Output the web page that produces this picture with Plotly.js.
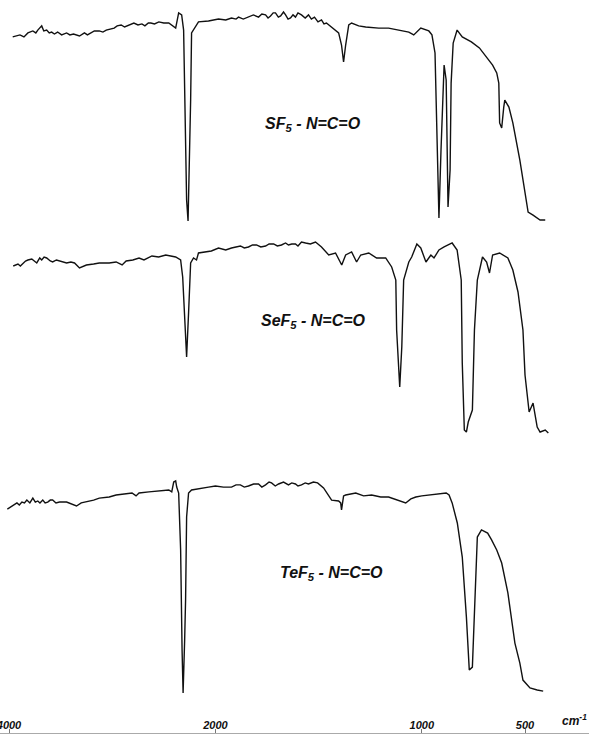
<!DOCTYPE html>
<html>
<head>
<meta charset="utf-8">
<script src="https://cdn.plot.ly/plotly-3.0.1.min.js"></script>
<style>html,body{margin:0;padding:0;background:#fff;}#chart{width:589px;height:735px;}</style>
</head>
<body>
<div id="chart"></div>
<script>
// Wavenumbers (cm^-1) and % transmittance
const sf5Wn = [3964,3894,3855,3817,3769,3740,3721,3683,3663,3635,3610,3587,3560,3529,3490,3442,3410,3375,3317,3290,3269,3240,3200,3173,3125,3090,3058,3020,2981,2952,2913,2880,2837,2790,2750,2712,2683,2650,2625,2590,2548,2500,2452,2404,2385,2356,2327,2308,2289,2279,2265,2250,2240,2231,2212,2192,2164,2067,1985,1950,1922,1900,1888,1865,1840,1816,1791,1775,1757,1745,1733,1720,1709,1695,1684,1670,1660,1648,1636,1624,1612,1600,1583,1565,1549,1535,1520,1503,1486,1474,1462,1450,1437,1418,1403,1389,1379,1369,1354,1340,1306,1272,1209,1161,1112,1078,1063,1039,1005,966,951,936,931,917,907,892,882,877,873,863,858,848,829,804,760,721,681,657,637,627,623,613,603,598,578,559,525,500,485,461,427,402];
const sf5T  = [85.5,86.4,85.5,87.3,88.2,87.3,88.6,90.5,88.2,88.6,87.3,87.7,86.8,87.7,86.4,87.3,86.4,86.8,85.9,86.8,87.3,86.4,87.7,88.2,88.2,87.7,88.6,89.1,89.5,90.5,90.9,90,90.9,91.8,90.9,91.4,90.5,91.8,91.8,91.4,92.3,91.8,91.8,90,89.5,96.4,95.5,88.6,47.7,11.4,1.8,29.5,56.8,87.3,88.6,90,92.3,92.7,93.6,93.2,94.1,93.6,94.5,93.6,94.5,95.5,94.5,95.9,95.5,94.1,95,96.4,96.4,94.5,95,96.8,95.5,93.6,94.1,95.5,94.5,96.4,95.5,94.1,95.5,93.6,94.5,92.3,93.2,91.4,91.8,90.9,90,88.6,87.3,81.8,74.1,81.8,90.9,91.8,90.5,90,89.5,89.5,88.6,87.7,87.7,86.4,89.5,88.2,86.4,78.2,56.8,3.2,34.1,72.7,65.9,34.1,8.2,25,64.5,82.7,88.6,85.5,83.2,80.5,75.9,72.7,69.1,64.5,46.4,44.1,53.6,56.8,53.6,46.4,29.5,15.9,5.9,4.5,2.3,2.3];

const sef5Wn = [3959,3913,3890,3865,3840,3817,3779,3755,3731,3702,3683,3660,3635,3600,3577,3540,3510,3442,3400,3365,3317,3250,3180,3125,3029,2962,2904,2865,2800,2740,2692,2615,2550,2481,2385,2337,2317,2298,2279,2260,2240,2212,2183,2164,2039,1985,1950,1922,1900,1879,1860,1840,1820,1801,1780,1757,1740,1718,1700,1680,1660,1646,1630,1612,1600,1583,1563,1540,1515,1486,1451,1418,1388,1369,1340,1316,1296,1257,1219,1175,1146,1126,1122,1107,1097,1088,1063,1049,1024,1005,980,956,941,917,892,853,829,809,804,794,784,775,755,745,731,706,686,672,657,623,583,559,534,510,500,480,461,441,427,402,387];
const sef5T  = [87,88,87,88.5,89.5,90,90.5,89.5,88.5,91,90,91.5,91,89.5,89,90,89.5,88.5,89,88.5,86,87.5,88,88.5,88.5,89,87.5,89.5,90,91,90,92,91.5,92.5,91.5,90,81.5,60,41.5,63.5,88.5,91,90,93.5,94.5,96,95,96,96.5,97,96,96.5,97.5,97.5,96.5,97,98,98,97,97.5,98.5,97.5,98,98,97,99,98.5,98,99,96.5,92.5,93.5,87.5,92.5,94,89,92.5,93.5,91,91,86.5,80,55,26.5,46.5,80,89,91.5,98,96,89,92.5,91,95,96.5,98.5,95,80,38.5,5,4,9,15,55,80,91.5,89,83.5,92.5,93.5,91,85,74,55,32.5,14,18.5,6.5,4,5,3.5];

const tef5Wn = [4016,3971,3923,3900,3875,3850,3827,3798,3769,3745,3721,3700,3673,3650,3625,3600,3577,3545,3510,3442,3394,3346,3300,3250,3180,3125,3029,2962,2885,2808,2769,2740,2644,2577,2500,2452,2423,2404,2385,2375,2356,2337,2323,2313,2298,2289,2279,2260,2231,2164,2067,2000,1961,1922,1900,1879,1860,1840,1815,1791,1775,1757,1740,1728,1710,1694,1670,1646,1630,1612,1600,1583,1565,1549,1525,1505,1476,1437,1403,1393,1389,1379,1369,1320,1282,1243,1199,1161,1112,1078,1053,1029,1000,966,931,902,882,868,853,828,804,784,770,755,745,731,711,681,662,637,613,583,549,525,510,490,476,441,412];
const tef5T  = [84.5,85.9,87.3,86.4,87.7,87.3,88.6,87.3,89.5,87.7,88.2,87.3,88.6,87.3,87.7,88.6,88.6,87.3,87.7,87.7,86.8,85.9,87.3,87.7,88.6,89.5,90,90.9,91.4,91.8,90.5,91.8,92.3,92.7,93.2,93.2,92.3,96.8,97.3,94.5,91.8,65.9,20.5,0.9,25,43.2,80.9,91.8,93.2,93.6,94.5,95,94.5,94.5,95.5,95.5,94.5,95,95.9,95.9,94.5,95.5,96.8,96.4,95,95.9,96.8,95.5,96.4,95.9,95,95.5,96.4,95.9,96.8,96.4,94.1,88.6,88.2,87.3,84.1,90.5,90.9,91.8,90.5,90.9,90,90,88.2,87.3,89.1,90,90.5,90.9,91.4,91.8,91.8,90.9,87.3,78.2,62.7,35.5,11.4,12.7,35.5,71.8,75,73.6,70.5,65.9,60,46.4,23.6,14.5,6.8,4.5,3.2,2.3,1.8];

const compoundLabels = ["SF<sub>5</sub> - N=C=O", "SeF<sub>5</sub> - N=C=O", "TeF<sub>5</sub> - N=C=O"];
const tickWn = [4000, 2000, 1000, 500];
const tickText = ["4000", "2000", "1000", "500"];

// Spectrometer chart scale: 4000-2000 cm^-1 at half the scale of 2000-400 cm^-1
function scalePos(v) { return v > 2000 ? 2000 + (v - 2000) / 2 : v; }

const lineStyle = {color: '#111', width: 1.4};
const traces = [
  {x: sf5Wn.map(scalePos), y: sf5T, xaxis: 'x', yaxis: 'y', type: 'scatter', mode: 'lines', line: lineStyle, hoverinfo: 'skip'},
  {x: sef5Wn.map(scalePos), y: sef5T, xaxis: 'x', yaxis: 'y2', type: 'scatter', mode: 'lines', line: lineStyle, hoverinfo: 'skip'},
  {x: tef5Wn.map(scalePos), y: tef5T, xaxis: 'x', yaxis: 'y3', type: 'scatter', mode: 'lines', line: lineStyle, hoverinfo: 'skip'},
  {x: [], y: [], xaxis: 'x2', yaxis: 'y3', type: 'scatter', mode: 'lines', hoverinfo: 'skip'}
];

const tickFont = {family: 'Liberation Sans, Arial, sans-serif', size: 11, color: '#111', weight: 'bold', style: 'italic'};
const labelFont = {family: 'Liberation Sans, Arial, sans-serif', size: 16, color: '#111', weight: 'bold', style: 'italic'};
const hiddenY = {range: [0, 100], visible: false, fixedrange: true};
const xRange = [3043.6, 190];

const layout = {
  width: 589, height: 735,
  margin: {l: 0, r: 0, t: 0, b: 2, pad: 0},
  paper_bgcolor: '#fff', plot_bgcolor: '#fff',
  showlegend: false,
  xaxis: {
    range: xRange, anchor: 'free', position: 0,
    tickvals: tickWn.map(scalePos), ticktext: tickText,
    ticks: 'inside', ticklen: 4, tickcolor: '#777', tickwidth: 1,
    showticklabels: false,
    showline: true, linecolor: '#aaa', linewidth: 1,
    showgrid: false, zeroline: false
  },
  xaxis2: {
    range: xRange, overlaying: 'x', side: 'top', anchor: 'free', position: 0.002,
    tickvals: tickWn.map(scalePos), ticktext: tickText,
    ticks: '', showline: false, showgrid: false, zeroline: false,
    showticklabels: true, ticklabeloverflow: 'allow', tickfont: tickFont
  },
  yaxis: Object.assign({domain: [0.6930, 0.9932]}, hiddenY),
  yaxis2: Object.assign({domain: [0.3997, 0.6726], anchor: 'x'}, hiddenY),
  yaxis3: Object.assign({domain: [0.0518, 0.3520], anchor: 'x'}, hiddenY),
  annotations: [
    {text: compoundLabels[0], xref: 'paper', yref: 'paper', x: 0.532, y: 0.846, showarrow: false, font: labelFont},
    {text: compoundLabels[1], xref: 'paper', yref: 'paper', x: 0.532, y: 0.562, showarrow: false, font: labelFont},
    {text: compoundLabels[2], xref: 'paper', yref: 'paper', x: 0.562, y: 0.202, showarrow: false, font: labelFont},
    {text: 'cm<sup>-1</sup>', xref: 'paper', yref: 'paper', x: 1.0, xanchor: 'right', y: 0.004, yanchor: 'bottom', showarrow: false,
     font: {family: 'Liberation Sans, Arial, sans-serif', size: 12, color: '#111', weight: 'bold', style: 'italic'}}
  ]
};

Plotly.newPlot('chart', traces, layout, {staticPlot: true, displayModeBar: false});
</script>
</body>
</html>
